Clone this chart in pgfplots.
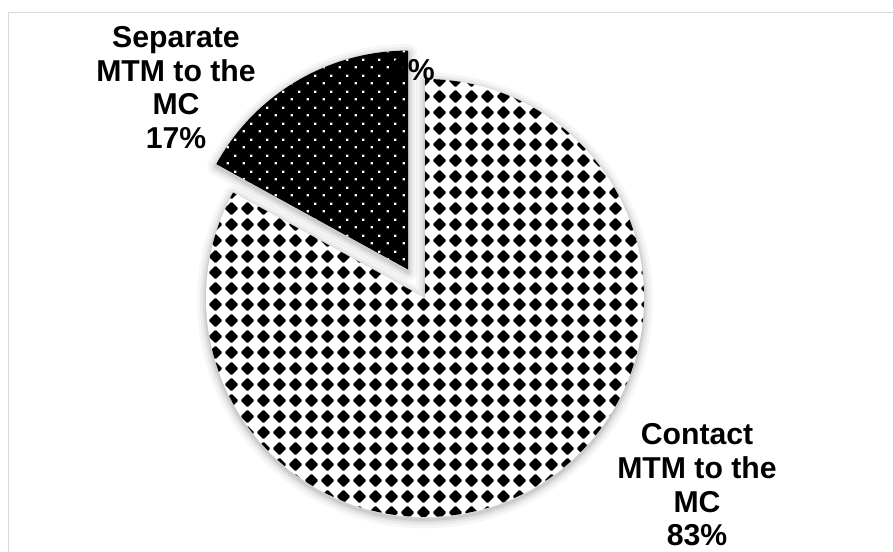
\documentclass[border=0pt]{standalone}
\usepackage{pgfplots}
\pgfplotsset{compat=1.18}
\usepackage{pgfplotstable}
\usepackage{fontspec}
\setmainfont{Liberation Sans}
\usetikzlibrary{patterns}

\pgfdeclarepatternformonly{mydiamonds}{\pgfqpoint{0pt}{0pt}}{\pgfqpoint{8pt}{8pt}}{\pgfqpoint{8pt}{8pt}}{%
  \pgfpathmoveto{\pgfqpoint{3.6pt}{0.75pt}}%
  \pgfpathlineto{\pgfqpoint{4.4pt}{0.75pt}}%
  \pgfpathlineto{\pgfqpoint{7.25pt}{3.6pt}}%
  \pgfpathlineto{\pgfqpoint{7.25pt}{4.4pt}}%
  \pgfpathlineto{\pgfqpoint{4.4pt}{7.25pt}}%
  \pgfpathlineto{\pgfqpoint{3.6pt}{7.25pt}}%
  \pgfpathlineto{\pgfqpoint{0.75pt}{4.4pt}}%
  \pgfpathlineto{\pgfqpoint{0.75pt}{3.6pt}}%
  \pgfpathclose\pgfusepath{fill}}
\pgfdeclarepatternformonly{mydots}{\pgfqpoint{0pt}{0pt}}{\pgfqpoint{8pt}{8pt}}{\pgfqpoint{8pt}{8pt}}{%
  \pgfpathrectangle{\pgfqpoint{1.4pt}{1.4pt}}{\pgfqpoint{1.2pt}{1.2pt}}%
  \pgfpathrectangle{\pgfqpoint{5.4pt}{5.4pt}}{\pgfqpoint{1.2pt}{1.2pt}}%
  \pgfusepath{fill}}

\pgfplotstableread{
label value
Contact 83
Separate 17
Zero 0
}\piedata

\pgfplotstablegetelem{0}{value}\of\piedata \let\vA\pgfplotsretval
\pgfplotstablegetelem{1}{value}\of\piedata \let\vB\pgfplotsretval
\pgfplotstablegetelem{2}{value}\of\piedata \let\vC\pgfplotsretval
\pgfmathsetmacro{\tot}{\vA+\vB+\vC}
\pgfmathsetmacro{\angA}{3.6*(\vA/\tot)*100}
\pgfmathsetmacro{\angB}{3.6*(\vB/\tot)*100}
\pgfmathsetmacro{\startB}{90-\angA}
\pgfmathsetmacro{\midB}{90+\angB/2}
\def\R{109.5pt}

\def\contactpath{(axis cs:425,253) -- ++(90:\R) arc[start angle=90, delta angle=-\angA, radius=\R] -- cycle}
\def\separatepath{([shift={(\midB:16.5pt)}]axis cs:425,253) -- ++(\startB:\R) arc[start angle=\startB, delta angle=-\angB, radius=\R] -- cycle}
\tikzset{shad/.style={black, line join=round}}

\begin{document}
\begin{tikzpicture}
\useasboundingbox (0,0) rectangle (446.5pt,275.5pt);
\begin{axis}[
  at={(0,0)}, anchor=south west,
  width=446.5pt, height=275.5pt, scale only axis,
  xmin=0, xmax=893, ymin=0, ymax=551,
  hide axis, clip=false,
]
% frame
\draw[color=black!15, line width=0.75pt] (axis cs:8.5,-5) -- (axis cs:8.5,538.5) -- (axis cs:900,538.5);
% shadows
\begin{scope}[yshift=-1.2pt]
  \draw[shad, line width=9pt, opacity=0.035] \contactpath;
  \draw[shad, line width=9pt, opacity=0.035] \separatepath;
  \draw[shad, line width=6pt, opacity=0.045] \contactpath;
  \draw[shad, line width=6pt, opacity=0.045] \separatepath;
  \draw[shad, line width=3.5pt, opacity=0.06] \contactpath;
  \draw[shad, line width=3.5pt, opacity=0.06] \separatepath;
  \draw[shad, line width=1.5pt, opacity=0.08] \contactpath;
  \draw[shad, line width=1.5pt, opacity=0.08] \separatepath;
\end{scope}
% slices
\fill[white] \contactpath;
\fill[pattern=mydiamonds, pattern color=black] \contactpath;
\fill[black] \separatepath;
\fill[pattern=mydots, pattern color=white] \separatepath;
% labels
\node[align=center, inner sep=0pt, font=\fontsize{15.1}{16.8}\selectfont\bfseries] at (axis cs:176,463.5) {Separate\\MTM to the\\MC\\17\%};
\node[align=center, inner sep=0pt, font=\fontsize{15.1}{16.8}\selectfont\bfseries] at (axis cs:697,66) {Contact\\MTM to the\\MC\\83\%};
\node[inner sep=0pt, font=\fontsize{15.1}{16.8}\selectfont\bfseries] at (axis cs:413,481) {0\%};
\end{axis}
\end{tikzpicture}
\end{document}
